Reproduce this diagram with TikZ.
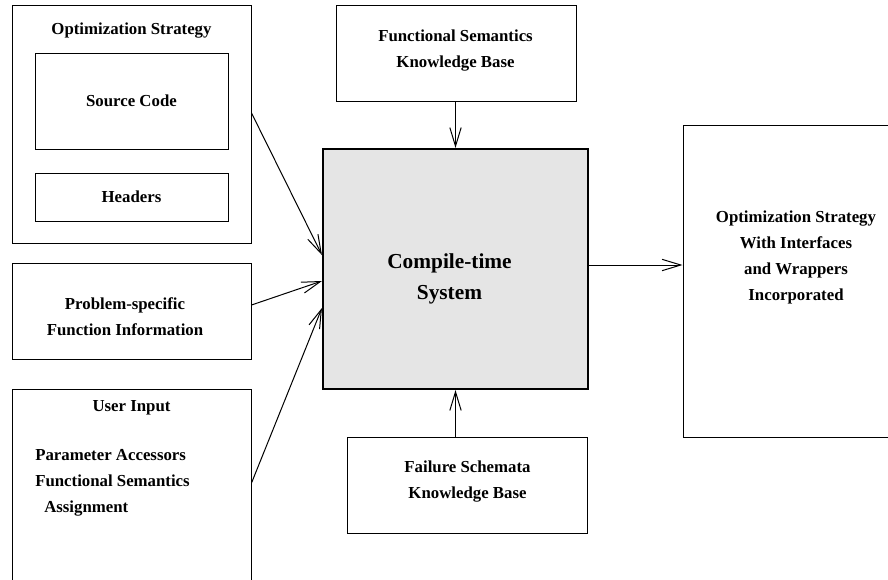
\documentclass[tikz,border=0pt]{standalone}
\usepackage{fontspec}
\setmainfont{Liberation Serif}
\usetikzlibrary{arrows.meta,fit}
\definecolor{corefill}{HTML}{E5E5E5}
\tikzset{
  box/.style={draw=black, line width=0.75pt, inner sep=0pt, fill=white},
  corebox/.style={draw=black, line width=1.6pt, inner sep=0pt, fill=corefill},
  lbl/.style={font=\fontsize{12.6pt}{19.5pt}\selectfont\bfseries, align=center, inner sep=0pt},
  biglbl/.style={font=\fontsize{16pt}{23.25pt}\selectfont\bfseries, align=center, inner sep=0pt},
  flow/.style={line width=0.75pt, -{Straight Barb[length=14pt, width=8.5pt, line width=0.75pt]}}
}
\begin{document}
\begin{tikzpicture}[x=0.75pt, y=-0.75pt]
\path[use as bounding box] (0,0) rectangle (888,579);
\clip (0,0) rectangle (888,579);

% input boxes on the left
\coordinate (o1) at (12,5);   \coordinate (o2) at (251,243);
\node[box, fit=(o1)(o2)] (opt) {};
\coordinate (s1) at (35,53);  \coordinate (s2) at (228,149);
\node[box, fit=(s1)(s2)] (src) {};
\coordinate (h1) at (35,173); \coordinate (h2) at (228,221);
\node[box, fit=(h1)(h2)] (hdr) {};
\coordinate (p1) at (12,263); \coordinate (p2) at (251,359);
\node[box, fit=(p1)(p2)] (prob) {};
\coordinate (u1) at (12,389); \coordinate (u2) at (251,620);
\node[box, fit=(u1)(u2)] (user) {};

% knowledge bases
\coordinate (f1) at (336,5);   \coordinate (f2) at (576,101);
\node[box, fit=(f1)(f2)] (fskb) {};
\coordinate (b1) at (347,437); \coordinate (b2) at (587,533);
\node[box, fit=(b1)(b2)] (fail) {};

% central system and output
\coordinate (c1) at (323,149); \coordinate (c2) at (588,389);
\node[corebox, fit=(c1)(c2)] (core) {};
\coordinate (r1) at (683,125); \coordinate (r2) at (910,437);
\node[box, fit=(r1)(r2)] (out) {};

% labels
\node[lbl] (optT) at (131.5,31) {Optimization Strategy};
\node[lbl] (srcT) at (src.center) {Source Code};
\node[lbl] (hdrT) at (hdr.center) {Headers};
\node[lbl] (probT) at (125,317) {Problem-specific\\Function Information};
\node[lbl] (userT) at (131.5,408) {User Input};
\node[lbl, align=left, anchor=west] (userL) at (35,483)
  {Parameter Accessors\\Functional Semantics\\\hspace*{6.75pt}Assignment};
\node[lbl] (fskbT) at (455.5,51) {Functional Semantics\\Knowledge Base};
\node[lbl] (failT) at (467.5,482) {Failure Schemata\\Knowledge Base};
\node[biglbl] (coreT) at (449.5,279) {Compile-time\\System};
\node[lbl] (outT) at (796,257) {Optimization Strategy\\With Interfaces\\and Wrappers\\Incorporated};

% connectors
\coordinate (y1) at (0,113); \coordinate (t1) at (0,255);
\coordinate (y2) at (0,305); \coordinate (t2) at (0,281);
\coordinate (y3) at (0,483); \coordinate (t3) at (0,308);
\coordinate (ym) at (0,265);
\draw[flow] (opt.east |- y1) -- (core.west |- t1);
\draw[flow] (prob.east |- y2) -- (core.west |- t2);
\draw[flow] (user.east |- y3) -- (core.west |- t3);
\draw[flow] (fskb.south -| fskbT) -- (core.north -| fskbT);
\draw[flow] (fail.north -| fskbT) -- (core.south -| fskbT);
\draw[flow] (core.east |- ym) -- (out.west |- ym);
\end{tikzpicture}
\end{document}
